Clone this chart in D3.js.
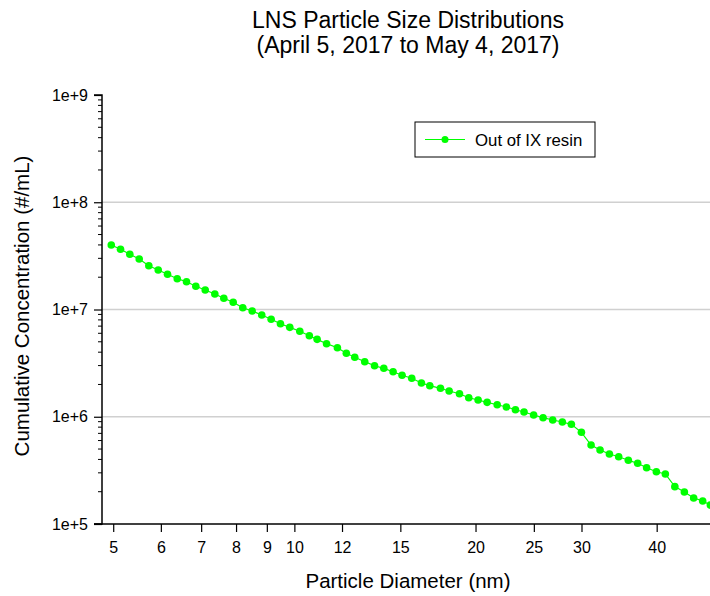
<!DOCTYPE html>
<html><head><meta charset="utf-8">
<script src="https://cdn.jsdelivr.net/npm/d3@7"></script>
<style>
body{margin:0;background:#fff;}
svg{display:block;font-family:"Liberation Sans",Arial,sans-serif;}
</style></head>
<body>
<svg id="c" width="710" height="596"></svg>
<script>
const diameters = [4.963,5.142,5.328,5.523,5.730,5.940,6.155,6.388,6.619,6.859,7.110,7.376,7.634,
 7.913,8.209,8.509,8.827,9.150,9.482,9.826,10.21,10.59,10.91,11.31,11.79,
 12.20,12.60,13.09,13.59,14.08,14.59,15.10,15.67,16.26,16.79,17.49,18.08,18.81,
 19.49,20.20,20.91,21.73,22.51,23.30,24.08,24.98,25.90,26.87,27.88,28.86,29.99,
 31.12,32.21,33.38,34.59,35.89,37.19,38.49,39.95,41.35,42.88,44.47,46.08,47.70,49.12];
const concentration = [3.994e7,3.641e7,3.270e7,2.957e7,2.561e7,2.335e7,2.129e7,1.938e7,1.816e7,1.646e7,1.520e7,1.395e7,1.272e7,
 1.167e7,1.039e7,9.68e6,8.89e6,8.10e6,7.37e6,6.82e6,6.26e6,5.70e6,5.27e6,4.80e6,4.40e6,
 3.905e6,3.583e6,3.262e6,2.992e6,2.829e6,2.630e6,2.435e6,2.283e6,2.064e6,1.948e6,1.842e6,1.739e6,1.640e6,
 1.505e6,1.433e6,1.363e6,1.295e6,1.233e6,1.163e6,1.107e6,1.038e6,9.80e5,9.33e5,8.93e5,8.50e5,7.16e5,
 5.45e5,4.90e5,4.49e5,4.24e5,3.93e5,3.68e5,3.35e5,3.07e5,2.93e5,2.23e5,1.99e5,1.75e5,1.64e5,1.50e5];
const xTicks = [5,6,7,8,9,10,12,15,20,25,30,40];
const yTicks = [1e5,1e6,1e7,1e8,1e9];
const yTickLabels = ["1e+5","1e+6","1e+7","1e+8","1e+9"];
const seriesName = "Out of IX resin";
const titleLines = ["LNS Particle Size Distributions","(April 5, 2017 to May 4, 2017)"];
const xTitle = "Particle Diameter (nm)";
const yTitle = "Cumulative Concentration (#/mL)";

const svg = d3.select("#c");
const pL = 102, pT = 95, pB = 524;
const x = d3.scaleLog().domain([4.79, 50]).range([pL, 715]);
const y = d3.scaleLog().domain([1e5, 1e9]).range([pB, pT]);
const green = "#00ff00";
const FF = "Liberation Sans, Arial, sans-serif";

// gridlines
svg.append("g").selectAll("line").data(yTicks.filter(v => v > 1e5 && v < 1e9)).join("line")
  .attr("x1", pL).attr("x2", 710).attr("y1", d => y(d)).attr("y2", d => y(d))
  .attr("stroke", "#d0d0d0").attr("stroke-width", 1.5);

// minor y ticks
const minor = [];
for (let e = 5; e < 9; e++) for (let m = 2; m <= 9; m++) minor.push(m * Math.pow(10, e));
svg.append("g").selectAll("line").data(minor).join("line")
  .attr("x1", pL - 4).attr("x2", pL).attr("y1", d => y(d)).attr("y2", d => y(d))
  .attr("stroke", "#000").attr("stroke-width", 1);

// y axis
const yAxis = d3.axisLeft(y).tickValues(yTicks).tickFormat((d, i) => yTickLabels[i]).tickSize(8).tickPadding(6);
const gy = svg.append("g").attr("transform", `translate(${pL},0)`).call(yAxis);
gy.attr("font-size", 16).attr("font-family", FF);
gy.select(".domain").attr("stroke", "#000").attr("stroke-width", 1.5).attr("d", `M-8,${pT}H0V${pB}H-8`);
gy.selectAll(".tick line").attr("stroke-width", 1.2);
gy.selectAll("text").attr("fill", "#000");

// x axis
const xAxis = d3.axisBottom(x).tickValues(xTicks).tickFormat(d3.format("d")).tickSize(8).tickPadding(10);
const gx = svg.append("g").attr("transform", `translate(0,${pB})`).call(xAxis);
gx.attr("font-size", 16).attr("font-family", FF);
gx.select(".domain").attr("stroke", "#000").attr("stroke-width", 1.5).attr("d", `M${pL - 8},0H715`);
gx.selectAll(".tick line").attr("stroke-width", 1.2);
gx.selectAll("text").attr("fill", "#000");

// data
const pts = diameters.map((d, i) => [d, concentration[i]]);
svg.append("path").datum(pts)
  .attr("d", d3.line().x(d => x(d[0])).y(d => y(d[1])))
  .attr("fill", "none").attr("stroke", green).attr("stroke-width", 1.2);
svg.append("g").selectAll("circle").data(pts).join("circle")
  .attr("cx", d => x(d[0])).attr("cy", d => y(d[1])).attr("r", 3.8).attr("fill", green);

// titles
svg.append("g").selectAll("text").data(titleLines).join("text")
  .attr("x", 408).attr("y", (d, i) => 28 + i * 25).attr("text-anchor", "middle")
  .attr("font-size", 23).attr("fill", "#000").text(d => d);
svg.append("text").attr("x", 408).attr("y", 588).attr("text-anchor", "middle")
  .attr("font-size", 20.5).text(xTitle);
svg.append("text").attr("transform", "translate(29,306) rotate(-90)").attr("text-anchor", "middle")
  .attr("font-size", 20.5).text(yTitle);

// legend
const lg = svg.append("g").attr("transform", "translate(415,122)");
lg.append("rect").attr("width", 180).attr("height", 35).attr("fill", "#fff").attr("stroke", "#000").attr("stroke-width", 1);
lg.append("line").attr("x1", 10).attr("x2", 50).attr("y1", 17.5).attr("y2", 17.5).attr("stroke", green).attr("stroke-width", 1.2);
lg.append("circle").attr("cx", 30).attr("cy", 17.5).attr("r", 3.5).attr("fill", green);
lg.append("text").attr("x", 60).attr("y", 23.5).attr("font-size", 16.8).text(seriesName);
</script>
</body></html>
